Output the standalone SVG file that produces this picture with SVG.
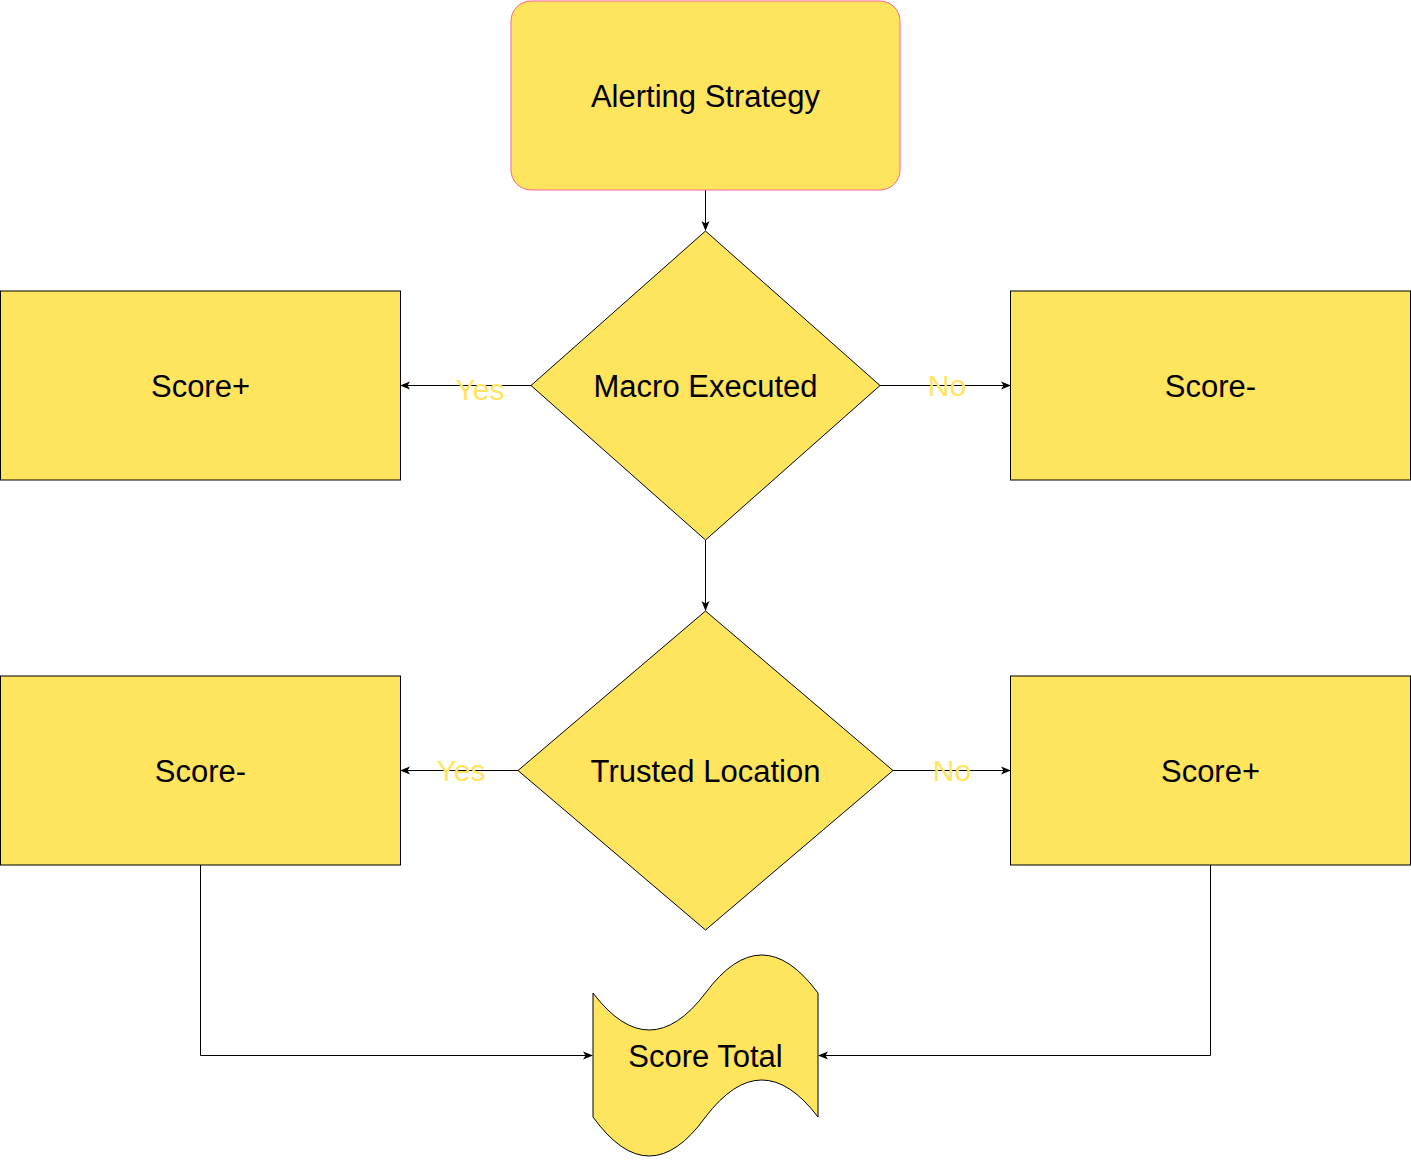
<svg xmlns="http://www.w3.org/2000/svg" width="1411" height="1161" viewBox="0 0 1411 1161">
<style>
.n{fill:#FFE45E;stroke:#000;stroke-width:1}
.t{font-family:"Liberation Sans",Arial,sans-serif;font-size:31px;fill:#000;text-anchor:middle}
.l{font-family:"Liberation Sans",Arial,sans-serif;font-size:30px;fill:#FFE45E;text-anchor:middle}
.c{fill:none;stroke:#000;stroke-width:1}
</style>
<defs>
<marker id="a" viewBox="0 0 10 10" refX="9" refY="5" markerWidth="10" markerHeight="10" markerUnits="userSpaceOnUse" orient="auto">
<path d="M0,1 L10,5 L0,9 L2.5,5 Z" fill="#000"/>
</marker>
</defs>
<rect width="1411" height="1161" fill="#fff"/>
<g id="connectors">
<path class="c" d="M705.5,190 V230" marker-end="url(#a)"/>
<path class="c" d="M531,385.5 H401" marker-end="url(#a)"/>
<path class="c" d="M880,385.5 H1010" marker-end="url(#a)"/>
<path class="c" d="M705.5,540 V610" marker-end="url(#a)"/>
<path class="c" d="M518,770.5 H401" marker-end="url(#a)"/>
<path class="c" d="M893,770.5 H1010" marker-end="url(#a)"/>
<path class="c" d="M200.5,865 V1055.5 H592" marker-end="url(#a)"/>
<path class="c" d="M1210.5,865 V1055.5 H819" marker-end="url(#a)"/>
<text class="l" x="480" y="400">Yes</text>
<text class="l" x="947" y="396">No</text>
<text class="l" x="461" y="781">Yes</text>
<text class="l" x="952" y="781">No</text>
</g>
<g id="alerting">
<rect x="511" y="1" width="389" height="189" rx="20" ry="20" fill="#FFE45E" stroke="#FF6392" stroke-width="1"/>
<text class="t" x="705.5" y="106.5">Alerting Strategy</text>
</g>
<g id="macro">
<polygon class="n" points="705.5,231 880,385.5 705.5,540 531,385.5"/>
<text class="t" x="705.5" y="396.5">Macro Executed</text>
</g>
<g id="score-plus-1">
<rect class="n" x="0.5" y="291" width="400" height="189"/>
<text class="t" x="200.5" y="396.5">Score+</text>
</g>
<g id="score-minus-1">
<rect class="n" x="1010.5" y="291" width="400" height="189"/>
<text class="t" x="1210.5" y="396.5">Score-</text>
</g>
<g id="trusted">
<polygon class="n" points="705.5,611 893,770.5 705.5,930 518,770.5"/>
<text class="t" x="705.5" y="781.5">Trusted Location</text>
</g>
<g id="score-minus-2">
<rect class="n" x="0.5" y="676" width="400" height="189"/>
<text class="t" x="200.5" y="781.5">Score-</text>
</g>
<g id="score-plus-2">
<rect class="n" x="1010.5" y="676" width="400" height="189"/>
<text class="t" x="1210.5" y="781.5">Score+</text>
</g>
<g id="score-total">
<path class="n" d="M593,993 Q649.25,1067 705.5,993 Q761.75,917 818,993 L818,1117 Q761.75,1043 705.5,1117 Q649.25,1195 593,1117 Z"/>
<text class="t" x="705.5" y="1066.5">Score Total</text>
</g>
</svg>
